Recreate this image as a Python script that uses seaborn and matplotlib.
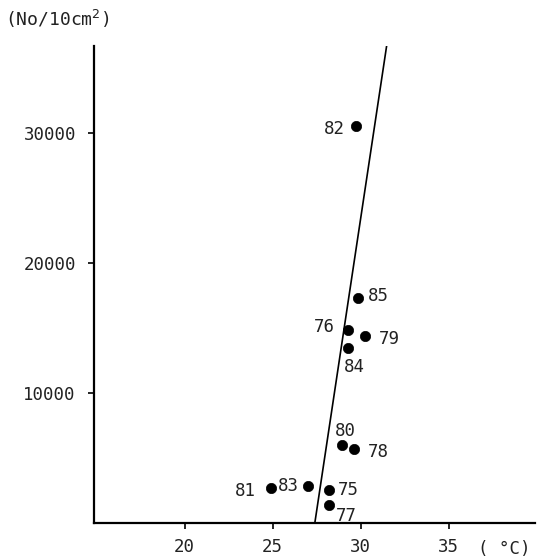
import pandas as pd
import numpy as np
import seaborn as sns
import matplotlib.pyplot as plt

# valores
anos = ['82', '85', '76', '79', '84', '80', '78', '81', '83', '75', '77']
temperatura = [29.73, 29.86, 29.30, 30.26, 29.29, 28.93, 29.61, 24.92, 27.03, 28.20, 28.20]
densidade = [30540, 17300, 14870, 14410, 13460, 6020, 5720, 2690, 2820, 2510, 1360]

# reta de regressão (extremos)
reta_x = [27.39, 31.49]
reta_y = [0, 36900]

x_ticks = [20, 25, 30, 35]
y_ticks = [10000, 20000, 30000]

# deslocamento dos rótulos (pontos)
offsets = {
    '82': (-23, -6), '85': (7, -2), '76': (-25, -2), '79': (10, -6),
    '84': (-3, -17), '80': (-5, 6), '78': (10, -6), '81': (-26, -6),
    '83': (-22, -3), '75': (6, -3), '77': (5, -11),
}

df = pd.DataFrame({'ano': anos, 'temp': temperatura, 'dens': densidade})

sns.set_style('white')
plt.rcParams['font.family'] = ['DejaVu Sans Mono', 'DejaVu Sans']

fig = plt.figure(figsize=(5.4, 5.6), dpi=100)
ax = fig.add_axes([0.174, 0.066, 0.817, 0.852])

sns.lineplot(x=reta_x, y=reta_y, ax=ax, color='black', linewidth=1.2)
sns.scatterplot(data=df, x='temp', y='dens', ax=ax, color='black', s=55,
                edgecolor='black', linewidth=0.5, zorder=3)

for _, r in df.iterrows():
    ax.annotate(r['ano'], (r['temp'], r['dens']), xytext=offsets[r['ano']],
                textcoords='offset points', fontsize=12.5, color='#222222')

ax.set_xlim(14.85, 39.9)
ax.set_ylim(0, 36700)
ax.set_xticks(x_ticks)
ax.set_yticks(y_ticks)
ax.set_xlabel('')
ax.set_ylabel('')
ax.tick_params(axis='both', labelsize=12.5, colors='black', labelcolor='#222222',
               length=4, width=1.2, direction='out', left=True, bottom=True)
ax.tick_params(axis='x', pad=7)
ax.tick_params(axis='y', pad=9)

for lado in ['top', 'right']:
    ax.spines[lado].set_visible(False)
for lado in ['left', 'bottom']:
    ax.spines[lado].set_color('black')
    ax.spines[lado].set_linewidth(1.6)

fig.text(0.01, 0.967, '(No/10cm$^2$)', fontsize=13, color='#222222', va='center')
fig.text(0.885, 0.02, '( °C)', fontsize=12.5, color='#222222', va='center')

fig.savefig('out.png', dpi=100)
